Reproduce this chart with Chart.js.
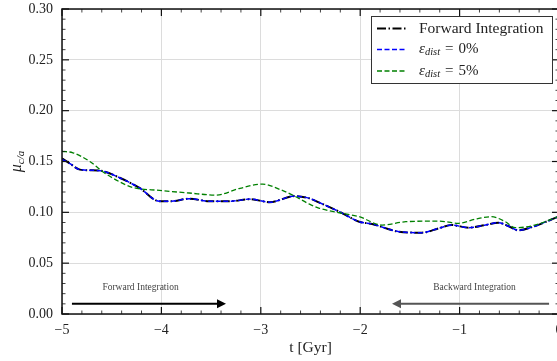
<!DOCTYPE html>
<html>
<head>
<meta charset="utf-8">
<script src="https://cdn.jsdelivr.net/npm/chart.js@4.4.0/dist/chart.umd.min.js"></script>
<style>
  html, body { margin: 0; padding: 0; background: #fff; overflow: hidden; }
  #wrap { position: relative; width: 562px; height: 361px; }
</style>
</head>
<body>
<div id="wrap"><canvas id="muChart"></canvas></div>
<script>
// look-back time in Gyr and mu_{c/a} for each run
const forwardT  = [-5.0, -4.92, -4.82, -4.62, -4.42, -4.22, -4.02, -3.9, -3.72, -3.52, -3.3, -3.11, -2.91, -2.66, -2.51, -2.41, -2.21, -2.01, -1.88, -1.61, -1.38, -1.21, -1.08, -0.91, -0.74, -0.61, -0.51, -0.41, -0.28, 0.0];
const forwardMu = [0.153, 0.148, 0.142, 0.141, 0.134, 0.124, 0.111, 0.111, 0.1134, 0.111, 0.111, 0.113, 0.110, 0.116, 0.1137, 0.1095, 0.1006, 0.0908, 0.0885, 0.081, 0.080, 0.0843, 0.0875, 0.0849, 0.0875, 0.0898, 0.0865, 0.0823, 0.0852, 0.096];

const dist0T  = [-5.0, -4.92, -4.82, -4.62, -4.42, -4.22, -4.02, -3.9, -3.72, -3.52, -3.3, -3.11, -2.91, -2.66, -2.51, -2.41, -2.21, -2.01, -1.88, -1.61, -1.38, -1.21, -1.08, -0.91, -0.74, -0.61, -0.51, -0.41, -0.28, 0.0];
const dist0Mu = [0.152, 0.148, 0.142, 0.141, 0.134, 0.124, 0.111, 0.111, 0.1134, 0.111, 0.111, 0.113, 0.110, 0.116, 0.1137, 0.1095, 0.1006, 0.0908, 0.0885, 0.081, 0.080, 0.0843, 0.0875, 0.0849, 0.0875, 0.0898, 0.0865, 0.0823, 0.0852, 0.096];

const dist5T  = [-5.0, -4.89, -4.72, -4.59, -4.42, -4.29, -4.02, -3.72, -3.45, -3.21, -2.98, -2.81, -2.68, -2.51, -2.41, -2.21, -2.01, -1.78, -1.54, -1.21, -1.01, -0.84, -0.68, -0.54, -0.44, -0.28, 0.0];
const dist5Mu = [0.160, 0.1586, 0.150, 0.140, 0.130, 0.1245, 0.1216, 0.119, 0.117, 0.1236, 0.1278, 0.1226, 0.117, 0.108, 0.104, 0.0996, 0.0957, 0.0875, 0.0908, 0.0914, 0.0892, 0.0934, 0.0957, 0.0908, 0.0849, 0.0865, 0.096];

const xTicks = [-5, -4, -3, -2, -1, 0];
const yTicks = [0, 0.05, 0.10, 0.15, 0.20, 0.25, 0.30];

// integration direction markers (data units)
const forwardArrow  = { from: -4.9, to: -3.35, y: 0.01, text: 'Forward Integration', textX: -4.21, textY: 0.026 };
const backwardArrow = { from: -0.1, to: -1.68, y: 0.01, text: 'Backward Integration', textX: -0.85, textY: 0.026 };

const SERIF = "'Liberation Serif', 'DejaVu Serif', serif";

const toPoints = (ts, ys) => ts.map((t, i) => ({ x: t, y: ys[i] }));

// inward ticks on all four sides plus the frame
const frameTicks = {
  id: 'frameTicks',
  afterDraw(chart) {
    const { ctx, chartArea: a, scales: { x, y } } = chart;
    ctx.save();
    ctx.strokeStyle = '#111';
    const tick = (x1, y1, x2, y2, w) => {
      ctx.lineWidth = w;
      ctx.beginPath(); ctx.moveTo(x1, y1); ctx.lineTo(x2, y2); ctx.stroke();
    };
    for (let i = 0; i <= 25; i++) {
      const px = x.getPixelForValue(-5 + i * 0.2);
      const len = i % 5 === 0 ? 7 : 3.5;
      const w = i % 5 === 0 ? 1.2 : 0.8;
      tick(px, a.bottom, px, a.bottom - len, w);
      tick(px, a.top, px, a.top + len, w);
    }
    for (let i = 0; i <= 30; i++) {
      const py = y.getPixelForValue(i * 0.01);
      const len = i % 5 === 0 ? 7 : 3.5;
      const w = i % 5 === 0 ? 1.2 : 0.8;
      tick(a.left, py, a.left + len, py, w);
      tick(a.right, py, a.right - len, py, w);
    }
    ctx.lineWidth = 1.5;
    ctx.strokeRect(a.left, a.top, a.right - a.left, a.bottom - a.top);
    ctx.restore();
  }
};

// arrows with captions marking the integration direction
const directionArrows = {
  id: 'directionArrows',
  afterDatasetsDraw(chart) {
    const { ctx, scales: { x, y } } = chart;
    const draw = (arr, color) => {
      const x0 = x.getPixelForValue(arr.from);
      const x1 = x.getPixelForValue(arr.to);
      const py = y.getPixelForValue(arr.y);
      const dir = Math.sign(x1 - x0);
      const head = 9;
      ctx.save();
      ctx.strokeStyle = color;
      ctx.fillStyle = color;
      ctx.lineWidth = 2;
      ctx.beginPath(); ctx.moveTo(x0, py); ctx.lineTo(x1 - dir * head, py); ctx.stroke();
      ctx.beginPath();
      ctx.moveTo(x1, py);
      ctx.lineTo(x1 - dir * head, py - 4.5);
      ctx.lineTo(x1 - dir * head, py + 4.5);
      ctx.closePath(); ctx.fill();
      ctx.font = '9.5px ' + SERIF;
      ctx.fillStyle = '#444';
      ctx.textAlign = 'center';
      ctx.textBaseline = 'middle';
      ctx.fillText(arr.text, x.getPixelForValue(arr.textX), y.getPixelForValue(arr.textY));
      ctx.restore();
    };
    draw(forwardArrow, '#000');
    draw(backwardArrow, '#555');
  }
};

// legend box and the rotated y-axis label, both need subscripts
const mathText = {
  id: 'mathText',
  afterDraw(chart) {
    const { ctx, chartArea: a } = chart;
    ctx.save();
    // y label
    ctx.translate(21, (a.top + a.bottom) / 2);
    ctx.rotate(-Math.PI / 2);
    ctx.fillStyle = '#222';
    ctx.textBaseline = 'alphabetic';
    ctx.font = 'italic 16px ' + SERIF;
    const muW = ctx.measureText('\u03bc').width;
    ctx.font = 'italic 11px ' + SERIF;
    const subW = ctx.measureText('c/a').width;
    let sx = -(muW + subW) / 2;
    ctx.font = 'italic 16px ' + SERIF;
    ctx.fillText('\u03bc', sx, 0);
    ctx.font = 'italic 11px ' + SERIF;
    ctx.fillText('c/a', sx + muW, 3);
    ctx.restore();

    // legend
    const bx = 371, by = 16, bw = 181, bh = 67;
    ctx.save();
    ctx.fillStyle = '#fff';
    ctx.fillRect(bx, by, bw, bh);
    ctx.strokeStyle = '#333';
    ctx.lineWidth = 1;
    ctx.strokeRect(bx + 0.5, by + 0.5, bw, bh);
    const rows = [28.5, 49.5, 71];
    chart.data.datasets.forEach((ds, i) => {
      const ry = rows[i];
      ctx.strokeStyle = ds.borderColor;
      ctx.lineWidth = ds.borderWidth;
      ctx.setLineDash(ds.borderDash);
      ctx.beginPath(); ctx.moveTo(bx + 6, ry); ctx.lineTo(bx + 36, ry); ctx.stroke();
      ctx.setLineDash([]);
      ctx.fillStyle = '#222';
      ctx.textBaseline = 'middle';
      let tx = bx + 48;
      ds.labelParts.forEach(p => {
        ctx.font = (p.italic ? 'italic ' : '') + p.size + 'px ' + SERIF;
        tx += p.dx || 0;
        ctx.fillText(p.text, tx, ry + (p.dy || 0));
        tx += ctx.measureText(p.text).width;
      });
    });
    ctx.restore();
  }
};

const fmtX = v => (v === 0 ? '0' : (v < 0 ? '\u2212' : '') + Math.abs(v));

const epsLabel = pct => [
  { text: '\u03b5', size: 15, italic: true },
  { text: 'dist', size: 10.5, italic: true, dy: 3 },
  { text: '=', size: 15, dx: 5 },
  { text: pct, size: 15, dx: 5 }
];

new Chart(document.getElementById('muChart'), {
  type: 'line',
  data: {
    datasets: [
      {
        label: 'Forward Integration',
        labelParts: [{ text: 'Forward Integration', size: 15.5 }],
        data: toPoints(forwardT, forwardMu),
        borderColor: '#000',
        borderWidth: 2,
        borderDash: [9, 2.5, 1.5, 2.5],
        order: 3
      },
      {
        label: '\u03b5dist = 0%',
        labelParts: epsLabel('0%'),
        data: toPoints(dist0T, dist0Mu),
        borderColor: '#0000ff',
        borderWidth: 1.5,
        borderDash: [5, 2.5],
        order: 2
      },
      {
        label: '\u03b5dist = 5%',
        labelParts: epsLabel('5%'),
        data: toPoints(dist5T, dist5Mu),
        borderColor: '#008000',
        borderWidth: 1.3,
        borderDash: [5, 2.5],
        order: 1
      }
    ]
  },
  options: {
    responsive: true,
    maintainAspectRatio: false,
    animation: false,
    events: [],
    layout: { padding: { top: 9, right: 3, left: 0, bottom: 0 } },
    elements: {
      point: { radius: 0 },
      line: { tension: 0.4, cubicInterpolationMode: 'monotone', fill: false }
    },
    plugins: { legend: { display: false }, tooltip: { enabled: false } },
    scales: {
      x: {
        type: 'linear',
        min: -5, max: 0,
        afterBuildTicks: s => { s.ticks = xTicks.map(v => ({ value: v })); },
        afterFit: s => { s.height = 47; s.paddingLeft = 0; s.paddingRight = 0; },
        grid: { color: '#dcdcdc', lineWidth: 1, drawTicks: false },
        border: { display: false },
        ticks: { padding: 8, color: '#222', font: { family: SERIF, size: 14 }, callback: fmtX, maxRotation: 0 },
        title: { display: true, text: 't [Gyr]', color: '#222', font: { family: SERIF, size: 15.5 }, padding: { top: 0, bottom: 4 } }
      },
      y: {
        min: 0, max: 0.3,
        afterBuildTicks: s => { s.ticks = yTicks.map(v => ({ value: v })); },
        afterFit: s => { s.width = 62; s.paddingTop = 0; s.paddingBottom = 0; },
        grid: { color: '#dcdcdc', lineWidth: 1, drawTicks: false },
        border: { display: false },
        ticks: { padding: 9, color: '#222', font: { family: SERIF, size: 14 }, callback: v => v.toFixed(2) }
      }
    }
  },
  plugins: [directionArrows, frameTicks, mathText]
});
</script>
</body>
</html>
